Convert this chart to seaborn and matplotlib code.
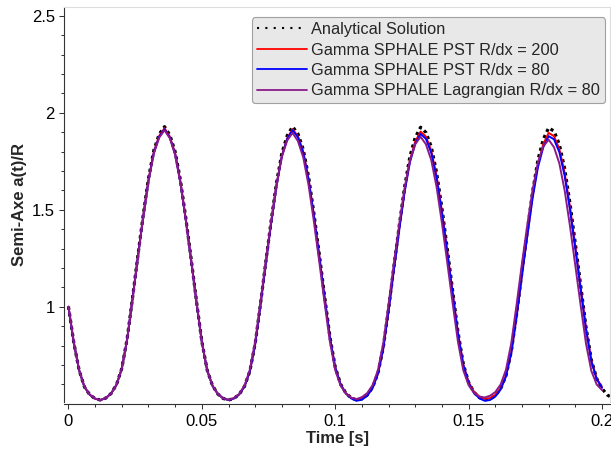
import numpy as np
import pandas as pd
import matplotlib
matplotlib.use("Agg")
import matplotlib.pyplot as plt
from matplotlib.ticker import MultipleLocator, FormatStrFormatter
import seaborn as sns

# ---------------- data ----------------
time_num = np.linspace(0.0, 0.200, 101)          # numerical solutions sampling [s]
time_ana = np.linspace(0.0, 0.204, 103)          # analytical solution sampling [s]

analytical = [1.000, 0.815, 0.672, 0.586, 0.546, 0.526, 0.519, 0.529, 0.553, 0.598,
              0.683, 0.835, 1.044, 1.261, 1.471, 1.662, 1.806, 1.889, 1.928, 1.885,
              1.798, 1.649, 1.455, 1.245, 1.027, 0.820, 0.673, 0.593, 0.550, 0.527,
              0.519, 0.527, 0.548, 0.590, 0.668, 0.811, 1.017, 1.235, 1.445, 1.640,
              1.792, 1.882, 1.928, 1.892, 1.811, 1.670, 1.481, 1.272, 1.055, 0.845,
              0.689, 0.601, 0.554, 0.530, 0.519, 0.525, 0.545, 0.584, 0.657, 0.790,
              0.990, 1.208, 1.419, 1.617, 1.775, 1.873, 1.925, 1.898, 1.824, 1.691,
              1.507, 1.298, 1.083, 0.870, 0.705, 0.610, 0.559, 0.532, 0.520, 0.524,
              0.542, 0.578, 0.645, 0.770, 0.963, 1.181, 1.392, 1.594, 1.758, 1.864,
              1.922, 1.905, 1.837, 1.711, 1.532, 1.324, 1.110, 0.895, 0.725, 0.630,
              0.578, 0.545, 0.528]

pst_200 = [1.000, 0.815, 0.672, 0.586, 0.546, 0.526, 0.519,
           0.529, 0.553, 0.598, 0.682, 0.833, 1.041, 1.257, 1.466, 1.655, 1.799, 1.881, 1.920,
           1.877, 1.791, 1.643, 1.450, 1.241, 1.024, 0.818, 0.672, 0.593, 0.550, 0.527, 0.519,
           0.527, 0.548, 0.589, 0.667, 0.808, 1.012, 1.228, 1.437, 1.630, 1.780, 1.869, 1.915,
           1.879, 1.799, 1.659, 1.472, 1.265, 1.050, 0.842, 0.687, 0.600, 0.554, 0.530, 0.522,
           0.528, 0.548, 0.585, 0.655, 0.786, 0.983, 1.197, 1.405, 1.600, 1.755, 1.852, 1.903,
           1.877, 1.804, 1.673, 1.492, 1.286, 1.074, 0.865, 0.702, 0.611, 0.562, 0.537, 0.525,
           0.529, 0.546, 0.580, 0.645, 0.765, 0.955, 1.169, 1.376, 1.574, 1.735, 1.839, 1.896,
           1.879, 1.813, 1.689, 1.513, 1.309, 1.099, 0.888, 0.722, 0.630, 0.585]

pst_80 = [1.000, 0.815, 0.672, 0.586, 0.546, 0.526, 0.519,
          0.529, 0.553, 0.597, 0.681, 0.832, 1.039, 1.254, 1.462, 1.651, 1.794, 1.876, 1.915,
          1.872, 1.786, 1.639, 1.446, 1.238, 1.022, 0.817, 0.672, 0.592, 0.550, 0.527, 0.519,
          0.527, 0.548, 0.589, 0.666, 0.807, 1.011, 1.226, 1.433, 1.626, 1.776, 1.865, 1.910,
          1.874, 1.795, 1.655, 1.469, 1.262, 1.048, 0.841, 0.687, 0.600, 0.552, 0.527, 0.515,
          0.521, 0.541, 0.580, 0.654, 0.783, 0.979, 1.191, 1.397, 1.591, 1.745, 1.840, 1.891,
          1.865, 1.793, 1.663, 1.483, 1.279, 1.069, 0.862, 0.700, 0.606, 0.555, 0.528, 0.515,
          0.519, 0.537, 0.573, 0.641, 0.762, 0.950, 1.161, 1.365, 1.561, 1.720, 1.823, 1.879,
          1.863, 1.797, 1.675, 1.501, 1.299, 1.092, 0.884, 0.719, 0.627, 0.582]

lagr_80 = [1.000, 0.815, 0.672, 0.586, 0.546, 0.526, 0.519,
           0.529, 0.553, 0.597, 0.681, 0.831, 1.037, 1.252, 1.459, 1.647, 1.790, 1.871, 1.910,
           1.868, 1.782, 1.635, 1.443, 1.236, 1.021, 0.816, 0.671, 0.592, 0.550, 0.528, 0.520,
           0.529, 0.550, 0.594, 0.676, 0.822, 1.027, 1.240, 1.444, 1.631, 1.774, 1.857, 1.896,
           1.854, 1.770, 1.627, 1.439, 1.233, 1.021, 0.819, 0.673, 0.593, 0.552, 0.531, 0.524,
           0.534, 0.555, 0.596, 0.673, 0.813, 1.014, 1.226, 1.427, 1.612, 1.754, 1.838, 1.876,
           1.837, 1.755, 1.616, 1.431, 1.227, 1.019, 0.819, 0.672, 0.595, 0.556, 0.537, 0.532,
           0.541, 0.560, 0.599, 0.675, 0.813, 1.013, 1.224, 1.422, 1.605, 1.745, 1.827, 1.861,
           1.822, 1.739, 1.599, 1.415, 1.211, 1.006, 0.809, 0.669, 0.599, 0.570]

labels = ["Analytical Solution",
          "Gamma SPHALE PST R/dx = 200",
          "Gamma SPHALE PST R/dx = 80",
          "Gamma SPHALE Lagrangian R/dx = 80"]
colors = ["black", "#ff0000", "#0000ff", "#8b1a89"]

# ---------------- style ----------------
sns.set_style("ticks")
plt.rcParams["font.family"] = ["Liberation Sans", "DejaVu Sans"]

fig = plt.figure(figsize=(6.11, 4.51), dpi=100)
ax = fig.add_axes([0.1052, 0.1093, 0.8932, 0.8752])

df_ana = pd.DataFrame({"t": time_ana, "y": analytical})
df_r = pd.DataFrame({"t": time_num, "y": pst_200})
df_b = pd.DataFrame({"t": time_num, "y": pst_80})
df_p = pd.DataFrame({"t": time_num, "y": lagr_80})

sns.lineplot(data=df_ana, x="t", y="y", ax=ax, color=colors[0], linewidth=2.3,
             linestyle=(0, (1, 1.1)), label=labels[0], estimator=None, sort=False, zorder=2)
sns.lineplot(data=df_r, x="t", y="y", ax=ax, color=colors[1], linewidth=1.4,
             label=labels[1], estimator=None, sort=False, zorder=3)
sns.lineplot(data=df_b, x="t", y="y", ax=ax, color=colors[2], linewidth=1.4,
             label=labels[2], estimator=None, sort=False, zorder=3)
sns.lineplot(data=df_p, x="t", y="y", ax=ax, color=colors[3], linewidth=1.4,
             label=labels[3], estimator=None, sort=False, zorder=4)

ax.set_xlim(-0.00157, 0.2030)
ax.set_ylim(0.5103, 2.545)

ax.xaxis.set_major_locator(MultipleLocator(0.05))
ax.xaxis.set_minor_locator(MultipleLocator(0.01))
ax.yaxis.set_major_locator(MultipleLocator(0.5))
ax.yaxis.set_minor_locator(MultipleLocator(0.1))
ax.xaxis.set_major_formatter(FormatStrFormatter("%g"))
ax.yaxis.set_major_formatter(FormatStrFormatter("%g"))

ax.tick_params(which="major", direction="out", length=3.6, width=0.75,
               labelsize=12, pad=3.2, color="#333333", labelcolor="black")
ax.tick_params(which="minor", direction="out", length=2.2, width=0.75, color="#333333")

for side in ["left", "bottom"]:
    ax.spines[side].set_color("#333333")
    ax.spines[side].set_linewidth(0.8)
ax.spines["bottom"].set_position(("outward", 1.8))
for side in ["top", "right"]:
    ax.spines[side].set_color("#dddddd")
    ax.spines[side].set_linewidth(0.8)

ax.set_xlabel("Time [s]", fontsize=12, fontweight="bold", labelpad=1.5)
ax.set_ylabel("Semi-Axe a(t)/R", fontsize=12, fontweight="bold", labelpad=3.5)

leg = ax.legend(loc="upper right", bbox_to_anchor=(605 / 611, 1 - 17.3 / 451),
                bbox_transform=fig.transFigure, borderaxespad=0, fontsize=11.8,
                frameon=True, fancybox=True, framealpha=1, facecolor="#e8e8e8",
                edgecolor="#a0a0a0", handlelength=3.05, handletextpad=0.25,
                labelspacing=0.33, borderpad=0.3)
leg.get_frame().set_linewidth(0.8)
lines = leg.get_lines()
lines[0].set_linewidth(1.5)
lines[0].set_dashes([1, 3])
for ln in lines[1:]:
    ln.set_linewidth(1.3)

fig.savefig("out.png", dpi=100)
